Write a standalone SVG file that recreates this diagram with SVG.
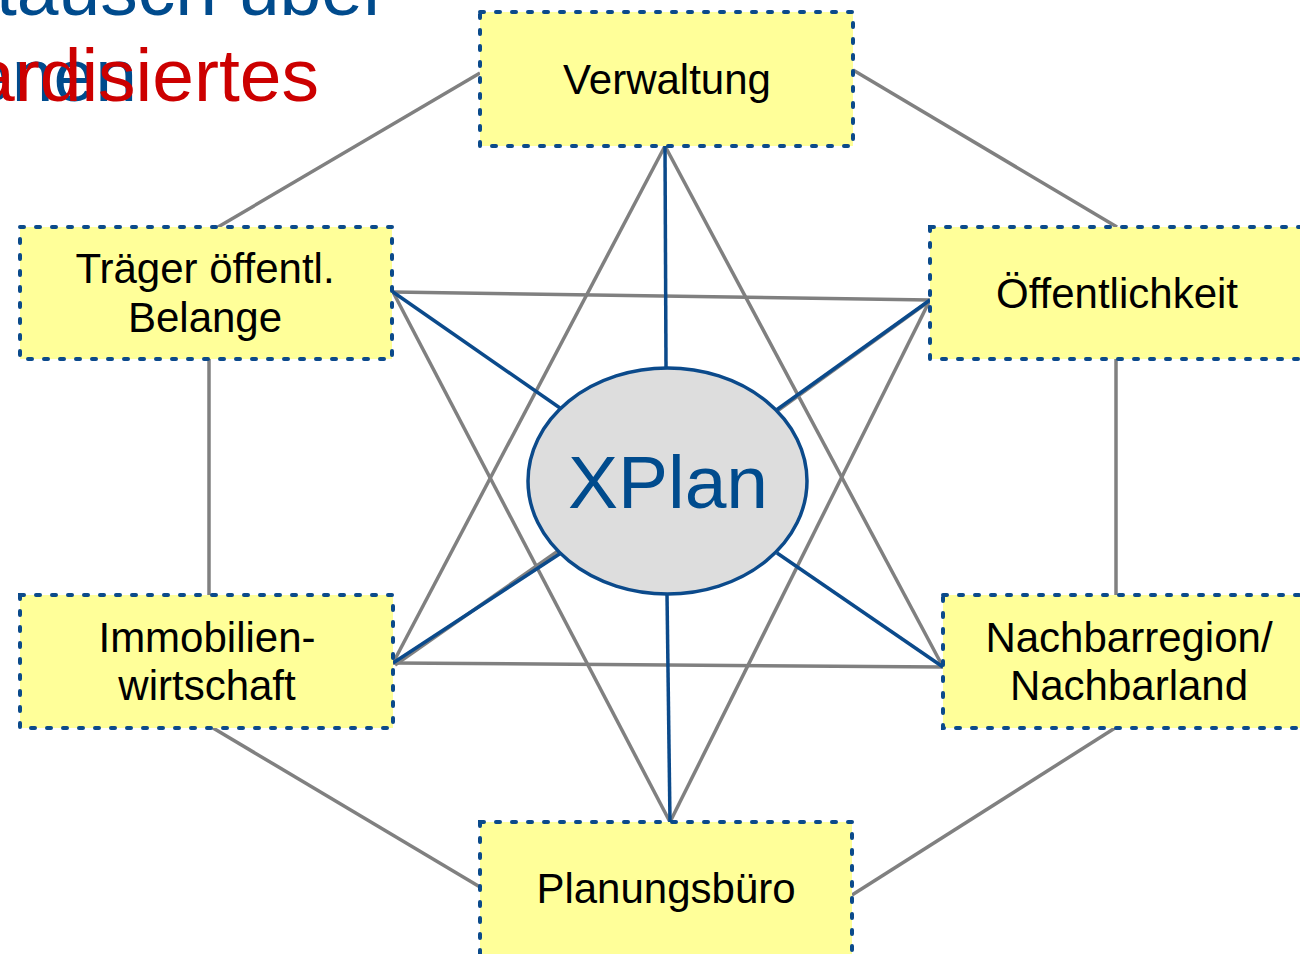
<svg xmlns="http://www.w3.org/2000/svg" width="1300" height="954" viewBox="0 0 1300 954">
  <style>
    .title { font-family: "Liberation Sans", Arial, sans-serif; font-size: 75px; }
    .blue { fill: #004B8D; }
    .red { fill: #CC0000; }
    .box { fill: #FFFF99; stroke: #0B4A8B; stroke-width: 4; stroke-dasharray: 4 12; stroke-linecap: round; }
    .label { font-family: "Liberation Sans", Arial, sans-serif; font-size: 42px; fill: #000; text-anchor: middle; }
    .ring { stroke: #808080; stroke-width: 3.5; fill: none; }
    .spoke { stroke: #0B4A8B; stroke-width: 3.5; fill: none; }
  </style>

  <!-- slide title, overlapped and clipped at the top edge -->
  <g id="title">
    <text class="title blue" x="-4" y="15">tausch über</text>
    <text class="title blue" x="-30" y="101">enen</text>
    <text class="title red" x="-27" y="101">ardisiertes</text>
  </g>

  <!-- connectors -->
  <g id="connectors">
    <!-- outer hexagon -->
    <line class="ring" x1="480" y1="73" x2="218" y2="227"/>
    <line class="ring" x1="853" y1="70" x2="1117" y2="227"/>
    <line class="ring" x1="209" y1="359" x2="209" y2="595"/>
    <line class="ring" x1="1116" y1="359" x2="1116" y2="595"/>
    <line class="ring" x1="213" y1="728" x2="480" y2="887"/>
    <line class="ring" x1="1115" y1="728" x2="852" y2="895"/>
    <!-- cross links -->
    <line class="ring" x1="393" y1="292" x2="930" y2="300"/>
    <line class="ring" x1="393" y1="663" x2="943" y2="667"/>
    <!-- star triangles -->
    <line class="ring" x1="665" y1="146" x2="393" y2="663"/>
    <line class="ring" x1="665" y1="146" x2="943" y2="667"/>
    <line class="ring" x1="393" y1="292" x2="670" y2="822"/>
    <line class="ring" x1="930" y1="300" x2="670" y2="822"/>
    <line class="ring" x1="928" y1="302" x2="773" y2="414"/>
    <line class="ring" x1="395" y1="665" x2="558" y2="551"/>
    <!-- spokes to the hub -->
    <line class="spoke" x1="665" y1="146" x2="666" y2="368"/>
    <line class="spoke" x1="393" y1="292" x2="560" y2="408"/>
    <line class="spoke" x1="930" y1="300" x2="775" y2="411"/>
    <line class="spoke" x1="393" y1="663" x2="561" y2="553"/>
    <line class="spoke" x1="943" y1="667" x2="777" y2="553"/>
    <line class="spoke" x1="670" y1="822" x2="667" y2="594"/>
  </g>

  <g id="hub">
    <ellipse cx="667.5" cy="481" rx="139.5" ry="113" fill="#DDDDDD" stroke="#0B4A8B" stroke-width="3.5"/>
    <text x="668" y="508" font-family="Liberation Sans, Arial, sans-serif" font-size="75" fill="#004B8D" text-anchor="middle">XPlan</text>
  </g>

  <g id="verwaltung">
    <rect class="box" x="480" y="12" width="373" height="134"/>
    <text class="label" x="667" y="94">Verwaltung</text>
  </g>

  <g id="traeger">
    <rect class="box" x="20" y="227" width="372" height="132"/>
    <text class="label" x="205" y="283">Träger öffentl.</text>
    <text class="label" x="205" y="332">Belange</text>
  </g>

  <g id="oeffentlichkeit">
    <rect class="box" x="930" y="227" width="374" height="132"/>
    <text class="label" x="1117" y="308">Öffentlichkeit</text>
  </g>

  <g id="immobilien">
    <rect class="box" x="20" y="595" width="373" height="133"/>
    <text class="label" x="207" y="652">Immobilien-</text>
    <text class="label" x="207" y="700">wirtschaft</text>
  </g>

  <g id="nachbar">
    <rect class="box" x="943" y="595" width="374" height="133"/>
    <text class="label" x="1129" y="652">Nachbarregion/</text>
    <text class="label" x="1129" y="700">Nachbarland</text>
  </g>

  <g id="planungsbuero">
    <rect class="box" x="480" y="822" width="372" height="134"/>
    <text class="label" x="666" y="903">Planungsbüro</text>
  </g>
</svg>
